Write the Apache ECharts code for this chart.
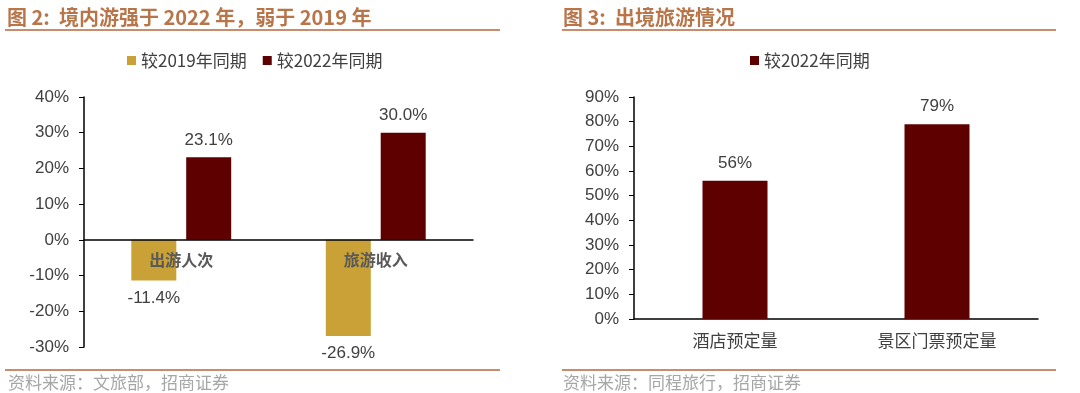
<!DOCTYPE html>
<html>
<head>
<meta charset="utf-8">
<script src="https://cdn.jsdelivr.net/npm/echarts@6/dist/echarts.min.js"></script>
<style>html,body{margin:0;padding:0;background:#fff;}#c{width:1080px;height:393px;}</style>
</head>
<body>
<div id="c"></div>
<script>
// Figure 2 data
const leftCategories = ['出游人次', '旅游收入'];
const leftSeriesNames = ['较2019年同期', '较2022年同期'];
const vs2019 = [-11.4, -26.9];
const vs2022 = [23.1, 30.0];
const leftTicks = { min: -30, max: 40, interval: 10 };
// Figure 3 data
const rightCategories = ['酒店预定量', '景区门票预定量'];
const rightSeriesName = '较2022年同期';
const outbound = [56, 79];
const rightTicks = { min: 0, max: 90, interval: 10 };

const GOLD = '#c9a137';
const RED = '#5e0000';
const TXT = '#404040';
const TITLE = '#b8754a';
const RULE = '#c98d6e';
const SRC = '#a6a6a6';
const CJK = '"Noto Sans CJK SC", sans-serif';
const LAT = '"Liberation Sans", Arial, sans-serif';

const chart = echarts.init(document.getElementById('c'), null, { renderer: 'canvas' });
chart.setOption({
  animation: false,
  backgroundColor: '#fff',
  title: [
    { text: '图 2:  境内游强于 2022 年，弱于 2019 年', left: 7, top: 7, padding: 0,
      textStyle: { color: TITLE, fontSize: 20, fontWeight: 'bold', fontFamily: CJK } },
    { text: '图 3:  出境旅游情况', left: 563, top: 7, padding: 0,
      textStyle: { color: TITLE, fontSize: 20, fontWeight: 'bold', fontFamily: CJK } },
    { text: '资料来源：文旅部，招商证券', left: 8, top: 374, padding: 0,
      textStyle: { color: SRC, fontSize: 17, fontWeight: 'normal', fontFamily: CJK } },
    { text: '资料来源：同程旅行，招商证券', left: 563, top: 374, padding: 0,
      textStyle: { color: SRC, fontSize: 17, fontWeight: 'normal', fontFamily: CJK } }
  ],
  graphic: [
    { type: 'line', shape: { x1: 5, y1: 30, x2: 500, y2: 30 }, style: { stroke: RULE, lineWidth: 2 } },
    { type: 'line', shape: { x1: 562, y1: 30, x2: 1056, y2: 30 }, style: { stroke: RULE, lineWidth: 2 } },
    { type: 'line', shape: { x1: 5, y1: 370, x2: 500, y2: 370 }, style: { stroke: RULE, lineWidth: 2 } },
    { type: 'line', shape: { x1: 562, y1: 370, x2: 1056, y2: 370 }, style: { stroke: RULE, lineWidth: 2 } }
  ],
  legend: [
    { data: leftSeriesNames, left: 122, top: 47, itemWidth: 9, itemHeight: 9, itemGap: 16,
      icon: 'rect', textStyle: { color: TXT, fontSize: 17, fontFamily: CJK } },
    { data: [{ name: rightSeriesName }], left: 745, top: 47, itemWidth: 9, itemHeight: 9,
      icon: 'rect', textStyle: { color: TXT, fontSize: 17, fontFamily: CJK } }
  ],
  grid: [
    { left: 84, right: 607, top: 97, bottom: 46 },
    { left: 634, right: 42, top: 97, bottom: 74 }
  ],
  xAxis: [
    { type: 'category', gridIndex: 0, data: leftCategories, z: 10,
      axisLine: { onZero: true, lineStyle: { color: '#000', width: 1.5 } },
      axisTick: { show: false },
      axisLabel: { color: '#595959', fontSize: 16, fontWeight: 'bold', fontFamily: CJK, margin: -95 } },
    { type: 'category', gridIndex: 1, data: rightCategories,
      axisLine: { lineStyle: { color: '#000', width: 1.5 } },
      axisTick: { show: false },
      axisLabel: { color: TXT, fontSize: 17, fontFamily: CJK, margin: 13 } }
  ],
  yAxis: [
    { type: 'value', gridIndex: 0, min: leftTicks.min, max: leftTicks.max, interval: leftTicks.interval,
      axisLine: { show: true, lineStyle: { color: '#000', width: 1.5 } },
      axisTick: { show: true, length: 5, lineStyle: { color: '#000' } },
      splitLine: { show: false },
      axisLabel: { formatter: '{value}%', color: TXT, fontSize: 17, fontFamily: LAT, margin: 15 } },
    { type: 'value', gridIndex: 1, min: rightTicks.min, max: rightTicks.max, interval: rightTicks.interval,
      axisLine: { show: true, lineStyle: { color: '#000', width: 1.5 } },
      axisTick: { show: true, length: 5, lineStyle: { color: '#000' } },
      splitLine: { show: false },
      axisLabel: { formatter: '{value}%', color: TXT, fontSize: 17, fontFamily: LAT, margin: 15 } }
  ],
  series: [
    { name: leftSeriesNames[0], type: 'bar', xAxisIndex: 0, yAxisIndex: 0, data: vs2019,
      barWidth: 45, barGap: '22%', itemStyle: { color: GOLD },
      label: { show: true, position: 'bottom', distance: 9, color: TXT, fontSize: 17, fontFamily: LAT,
        formatter: p => p.value.toFixed(1) + '%' } },
    { name: leftSeriesNames[1], type: 'bar', xAxisIndex: 0, yAxisIndex: 0, data: vs2022,
      barWidth: 45, barGap: '22%', itemStyle: { color: RED },
      label: { show: true, position: 'top', distance: 9, color: TXT, fontSize: 17, fontFamily: LAT,
        formatter: p => p.value.toFixed(1) + '%' } },
    { name: rightSeriesName, type: 'bar', xAxisIndex: 1, yAxisIndex: 1, data: outbound,
      barWidth: 65, itemStyle: { color: RED },
      label: { show: true, position: 'top', distance: 9, color: TXT, fontSize: 17, fontFamily: LAT,
        formatter: p => p.value + '%' } }
  ]
});
</script>
</body>
</html>
